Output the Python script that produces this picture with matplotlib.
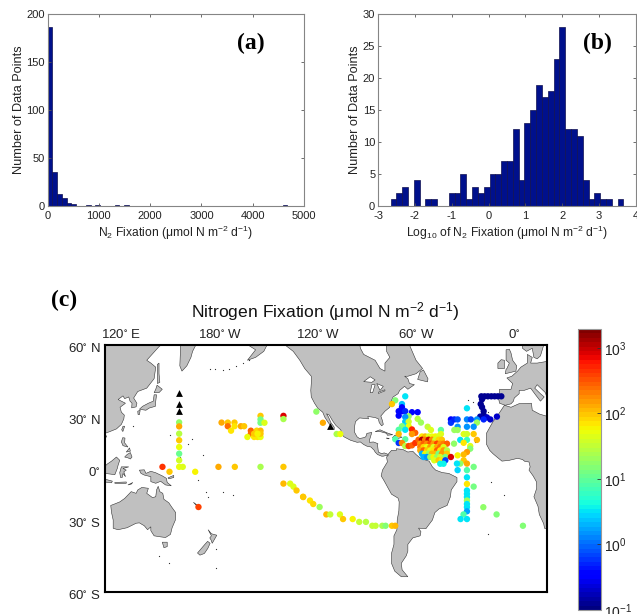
import numpy as np
import matplotlib
matplotlib.use("Agg")
import matplotlib.pyplot as plt
from matplotlib.colors import LogNorm
from matplotlib.patches import Polygon
from matplotlib.cm import ScalarMappable
from matplotlib.transforms import ScaledTranslation

plt.rcParams['font.family'] = ['Liberation Sans', 'DejaVu Sans']
plt.rcParams['mathtext.default'] = 'regular'

W, H = 637, 614

# histogram a: linear bins
a_width = 93.5
a_counts = [187, 35, 12, 8, 3, 2, 0, 0, 1, 0, 1, 0, 0, 0, 1, 0, 1] + [0] * 32 + [1]

# histogram b: log10 bins
b_start = -2.66
b_width = 0.158
b_counts = [1, 2, 3, 0, 4, 0, 1, 1, 0, 0, 2, 2, 5, 1, 3, 2, 3, 5, 5, 7, 7, 12, 4, 13, 15, 19,
            17, 18, 23, 28, 12, 12, 11, 4, 1, 2, 1, 1, 0, 1]

# stations, lon west negative and counted past -180 across the Pacific
pac_lon = [-204.7, -204.7, -204.7, -204.7, -204.7, -204.7, -204.7, -204.7, -214.9, -210.6, -202.5,
           -194.9, -180.7, -170.7, -155, -141, -192.9, -155, -155, -155, -152.6, -141, -141, -178.8,
           -175, -170.9, -175, -170.9, -173, -167, -165, -160.9, -160.9, -163, -158.9, -156.8, -155,
           -157.3, -155, -155, -158.9, -156.8, -141, -136.9, -134.9, -133, -129]
pac_lat = [27.1, 24.9, 20.8, 17, 13, 9, 5, 1, 1, -2, 1, -2, 1, 1, 1, 1, -22.9, 30.6, 28.7, 26.9,
           26.9, 30.6, 28.9, 27, 27, 27, 25, 25, 22.5, 25, 25, 22.5, 20.8, 18.9, 18.9, 18.9, 18.9,
           22.5, 22.5, 20.8, 20.8, 20.8, -9.2, -9.2, -11, -13.3, -17]
pac_val = [18, 130, 30, 90, 50, 11, 40, 50, 450, 90, 45, 60, 130, 100, 25, 90, 400, 100, 12, 12, 45,
           900, 25, 140, 100, 100, 250, 70, 70, 130, 100, 300, 250, 55, 70, 70, 50, 80, 110, 90, 100,
           65, 110, 45, 45, 90, 100]

south_lon = [-128.9, -124.8, -122.8, -118.9, -114.8, -112.4, -106.5, -104.6, -98.7, -94.7, -90.6,
             -86.7, -84.7, -80.6, -78.6, -74.7, -72.7, -120.9, -116.9, -108.5, -106.3]
south_lat = [-17.2, -19.2, -21.2, -22.9, -27, -27, -27, -29.5, -29.5, -31, -31, -33, -33, -33, -33,
             -33, -33, 32.8, 26.9, 20.6, 20.6]
south_val = [90, 70, 80, 20, 110, 35, 45, 100, 60, 35, 30, 35, 35, 25, 16, 100, 120, 18, 130, 25, 50]

# north east Atlantic transect and Azores
ne_lon = [-20.1, -18.1, -16.1, -14, -12, -10, -7.9, -19.7, -20.5, -19.7, -18.7, -18.7, -20.8, -16.7,
          -14.6, -10.6, -18.7, -38.7, -38.7, -36.6, -34.6, -34.6, -36.6, -34.6, -28.9, -28.9, -26.5,
          -22.8, -22.8, -28.9, -24.8, -30.9, -28.9, -24.8, -33, -28.9, -22.8, -30.9]
ne_lat = [40.3, 40.3, 40.3, 40.3, 40.3, 40.3, 40.3, 38.9, 36.6, 35.1, 33, 31, 30.2, 29.8, 28.7, 30.2,
          28.7, 28.7, 26.9, 28.7, 28.7, 24.7, 22.9, 22.9, 34.5, 28.7, 28.7, 28.7, 27, 24.7, 24.7, 20.6,
          20.6, 20.6, 17.2, 17.2, 17.2, 15.5]
ne_val = [.13, .13, .13, .13, .13, .13, .13, .13, .13, .13, .13, .13, .15, .2, .2, .2, .5, .3, .6, .5,
          .8, 1.5, 22, 20, 3, 1.3, .7, 1.5, 20, 1.5, 1.5, 45, 40, 100, 3, 6, 110, 70]

# tropical and south Atlantic line
sa_lon = [-26.9, -26.9, -28.9, -30.9, -30.9, -28.9, -34.6, -33, -35, -34.6, -28.9, -24.8, -28.9, -28.9,
          -24.8, -28.9, -28.9, -28.9, -28.9, -28.9, -28.9, -28.9, -31, -32.8, -28.9, -18.9, -10.8, 5.3]
sa_lat = [13.6, 12, 10, 8.5, 5, 3, 8, 3, 3, -1, -1, 1, -5.4, -9.4, -11, -13.3, -15.3, -17.2, -19.2,
          -21.2, -23, -25.3, -27, -29.5, -29.5, -23, -27, -33]
sa_val = [45, 15, 150, 120, 90, 130, 60, 18, 3, 2.8, 8, 13, 3, 70, 13, 3, 3, 3, 20, 3, 3, 1.8, 8, 3, 3,
          17, 15, 15]

# north west Atlantic and Caribbean
nw_lon = [-66.6, -72.7, -74.7, -68.6, -70.6, -68.6, -68.6, -70.6, -66.6, -62.5, -59, -64.5, -66.6, -66.6,
          -64.5, -59, -57, -52.9, -50.9, -44.8, -44.8, -46.8, -66.6, -68.6, -64.5, -70.6, -66.6, -62.5,
          -60.5, -62.5, -70.6, -72.7, -66.6, -70.6, -68.6, -66.6, -64.5, -62.5, -60.5, -58.5]
nw_lat = [40.3, 38.4, 36.6, 36.6, 33, 35, 33, 30.7, 33, 32.5, 32.5, 30.4, 30, 27.5, 27.5, 29, 27, 24.7,
          22.9, 22.9, 20.6, 19, 25, 25, 25, 23, 23, 23.2, 21.3, 20.6, 20.6, 17.6, 17.6, 15.4, 15.4, 13.6,
          13.6, 14, 15.4, 17.3]
nw_val = [3, 16, 100, 2.5, .4, .4, .35, .4, .5, .4, .35, 20, 1.5, 2.5, 40, 30, 22, 35, 45, 10, 45, 45, 3,
          15, 50, 8, 3, 500, 300, 150, 120, 8, 10, .6, 180, 30, 400, 280, 450, 280]

# dense patch east of the Antilles
patch_lon = [-56.4, -54.4, -52.3, -50.3, -48.2, -46.2,
             -56.4, -54.4, -52.3, -50.3, -48.2, -46.2, -44.2,
             -57.4, -55.4, -53.3, -51.3, -49.3, -47.2, -45.2, -43.2, -41.1, -36.8,
             -57.4, -55.4, -53.3, -51.3, -49.3, -47.2, -45.2, -43.2,
             -57.4, -55.4, -53.3, -51.3, -49.3, -47.2, -45.2, -43.2, -41.1,
             -56.4, -54.4, -52.3, -50.3, -48.2, -46.2, -44.2, -41.1,
             -55.4, -53.3, -51.3, -49.3, -47.2, -45.2, -42.1, -38.7,
             -48.9, -46.2, -44.2, -42.1, -45.2, -43.2]
patch_lat = [19.2] * 6 + [17.3] * 7 + [15] * 10 + [13] * 8 + [11] * 9 + [9] * 8 + [7] * 8 + [5] * 4 + [2.9] * 2
patch_val = [70, 120, 45, 50, 60, 45,
             1200, 200, 1000, 180, 40, 80, 100,
             150, 280, 180, 350, 160, 400, 150, 200, 300, 18,
             200, 80, 50, 160, 45, 140, 250, 45,
             130, 300, 100, 50, 70, 280, 70, 150, 30,
             2, 60, 22, 120, 110, 13, 150, 90,
             2, 1.5, 20, 60, 18, 40, 12, 900,
             45, 100, 70, .7, 4, 3.5]

no_data_lon = [-204.7, -204.7, -204.7, -112.4]
no_data_lat = [42, 36.4, 33, 25.3]

# land west of the map seam, lon as east longitude
asia_side = {
    'asia': [(100, 21), (110, 21), (113, 22), (117, 23.5), (120, 26), (121.5, 29), (121.8, 31), (120, 32.5),
             (119.2, 35), (122.5, 37), (120, 38), (118, 38.8), (121, 40.5), (122, 39.2), (124.5, 40),
             (125.3, 38), (126.5, 37), (126.3, 34.7), (129, 35.2), (129.5, 37), (127.5, 39.5), (130, 42.5),
             (135.5, 44), (140, 48), (141, 52.5), (138, 54), (135.5, 55), (143, 59.5), (150, 62), (100, 62)],
    'kamchatka': [(156, 62), (156, 57), (155.7, 53), (157, 51), (160, 53), (162.5, 56), (163.5, 58),
                  (166, 60.5), (166, 62)],
    'honshu': [(131, 34), (135, 33.5), (137, 34.6), (140.8, 35.5), (141, 38), (141.5, 41), (140, 41),
               (139.5, 38), (136.5, 37), (133, 35.5)],
    'kyushu': [(130, 33), (131.5, 33.5), (131, 31.2), (130.2, 31.3)],
    'hokkaido': [(140, 42), (141, 43.5), (141.8, 45.3), (145, 43.5), (143, 42)],
    'sakhalin': [(142, 46), (143.5, 46.5), (143, 50), (143, 54), (142, 53.5), (142, 49)],
    'taiwan': [(120.2, 23), (121, 25), (122, 25), (120.9, 22)],
    'hainan': [(109, 19), (110.5, 20), (111, 19), (109.7, 18.2)],
    'luzon': [(120, 16), (120.8, 18.5), (122.2, 18.3), (122, 15.5), (124, 13), (121, 13.8)],
    'visayas': [(123, 10), (125, 12.5), (125.5, 10.5)],
    'mindanao': [(122, 7), (123.5, 8.5), (125.5, 9.7), (126.5, 7), (125.5, 5.8), (124, 6.5)],
    'borneo': [(110, 1.5), (111.5, 2.8), (114, 4.5), (117, 7), (119, 5), (118, 2), (117.5, 0), (116, -3.8),
               (114, -3.5), (110, -3), (109, 0)],
    'sulawesi': [(119.5, -5.5), (119, -2.5), (120, 1), (124.5, 1), (121, 0), (123, -1), (121.5, -2),
                 (122.5, -5), (121, -3), (120.5, -5.5)],
    'java': [(105, -7), (110, -6.5), (114.5, -7.7), (114, -8.7), (106, -7.8)],
    'flores': [(116, -8.5), (123, -8.2), (123, -9), (116, -9)],
    'timor': [(124, -10), (127, -8.5), (126, -9.5)],
    'guinea': [(131, -1), (134, -0.8), (135, -3), (138, -1.7), (141, -2.6), (145, -4.5), (147.5, -6),
               (148, -8.5), (150.5, -10.5), (147, -10), (144, -7.8), (141, -9), (138, -8), (138, -5),
               (134, -4), (132, -3)],
    'newbritain': [(148.5, -5.7), (152, -4.2), (152, -5.5), (149, -6.3)],
    'australia': [(113.5, -22), (114, -26), (115, -30), (115, -34.3), (118, -35), (123.5, -34), (129, -31.7),
                  (131, -31.5), (134, -33), (136, -35), (138, -33.5), (138, -35.5), (140, -38), (144, -38.5),
                  (147, -38.8), (150, -37.3), (151, -34), (153, -30), (153.2, -26), (150.8, -23), (149, -20.5),
                  (146, -18.5), (145.3, -15), (143.5, -14), (142.5, -10.8), (141.5, -13), (141, -17),
                  (139, -17.5), (135.5, -15), (136.5, -12), (132.5, -11.5), (130, -13), (129, -15), (126, -14),
                  (122, -18), (119, -20), (115, -21.5)],
    'tasmania': [(145, -41), (148, -41), (148, -43), (146, -43.5)],
    'nz_north': [(173, -35), (175, -37), (178.3, -37.7), (177, -39.5), (175.5, -41.5), (174.8, -40), (174, -39),
                 (175, -38)],
    'nz_south': [(172.7, -40.6), (174.2, -41.5), (172.8, -43.8), (170.7, -46), (168, -46.7), (166.5, -45.8),
                 (171, -42)],
    'caledonia': [(164, -20.2), (167, -22.3), (166, -22.2)],
}

# land east of the seam, lon west negative
america_side = {
    'north_america': [(-170, 70), (-165, 61), (-162, 59.8), (-158, 58.5), (-163, 55), (-158, 56), (-153, 58),
                      (-151, 60), (-148, 61), (-140, 60), (-135, 58), (-131, 55), (-128, 52), (-124, 49),
                      (-124, 46), (-124.3, 43), (-124, 40), (-122, 37), (-120, 34.5), (-117, 32.5),
                      (-115.8, 30), (-114, 27.5), (-112, 25), (-110, 23), (-110, 24.5), (-112, 27), (-113.5, 30),
                      (-114.7, 31.7), (-113, 31), (-111, 28), (-109, 25.5), (-106, 23), (-105, 20), (-104, 19),
                      (-100, 17), (-96, 15.8), (-94, 16), (-92, 14.5), (-90, 13.5), (-87.5, 13), (-85.5, 11),
                      (-85, 10), (-83.5, 8.5), (-81, 7.5), (-80, 7.5), (-78, 8), (-77, 8), (-77.5, 8.8),
                      (-79.5, 9.5), (-81, 9), (-83, 10), (-83.5, 14), (-83.3, 15), (-86, 16), (-88.5, 15.8),
                      (-88.3, 17.5), (-87.5, 20), (-87, 21.5), (-90, 21), (-90.7, 19), (-92, 18.5), (-94.5, 18),
                      (-96, 19), (-97.5, 21.5), (-97.5, 25), (-97, 27.5), (-94.5, 29.5), (-91, 29.2), (-89, 29),
                      (-89.5, 30.3), (-85, 29.7), (-83, 29), (-82.5, 27), (-81, 25.2), (-80, 26), (-80.5, 28),
                      (-81.5, 30.5), (-79, 33), (-76, 35), (-75.5, 37.5), (-74, 40), (-71, 41.5), (-70, 43),
                      (-67, 44.8), (-65, 43.5), (-61, 45.5), (-64, 46), (-65, 48), (-67, 49), (-65, 49), (-60, 50),
                      (-56, 52), (-60, 55), (-64, 60), (-70, 62), (-78, 62), (-78, 58), (-76, 56), (-79, 54),
                      (-79, 51), (-82, 52), (-85, 55), (-92, 57), (-94, 59), (-95, 62), (-100, 70)],
    'south_america': [(-77, 8), (-78, 7), (-77.5, 4), (-79, 1.5), (-80.5, -1), (-81.3, -4.5), (-79.5, -7.5),
                      (-77, -12), (-75, -15.5), (-71, -17.8), (-70.3, -20), (-70.5, -25), (-71.5, -30),
                      (-71.7, -35), (-73.5, -38), (-73.5, -42), (-75, -46), (-75, -50), (-73, -53), (-69, -55),
                      (-65, -55), (-68.5, -52.5), (-69, -50), (-66, -47), (-65, -45), (-65, -42), (-62, -39),
                      (-57.5, -38), (-57, -36), (-58.5, -34.2), (-54, -34.5), (-50, -30), (-48.5, -26), (-46, -24),
                      (-41, -22), (-39, -17), (-38.5, -13), (-35, -8), (-35, -5.5), (-40, -3), (-44, -2.5),
                      (-48, -1), (-50, 1), (-52, 4.5), (-57, 6), (-60, 8.5), (-62, 10.5), (-65, 10), (-68, 11.5),
                      (-72, 12), (-72, 11), (-75, 11), (-77, 8.7)],
    'newfoundland': [(-59, 47.7), (-53, 46.7), (-52.7, 48), (-55.5, 51.5), (-57.5, 50.7)],
    'cuba': [(-85, 22), (-82, 23), (-77, 21), (-74.2, 20.2), (-77.5, 19.9), (-78, 21), (-82, 22)],
    'hispaniola': [(-74.4, 18.5), (-73, 19.9), (-68.5, 18.8), (-71, 18)],
    'jamaica': [(-78.3, 18.3), (-76.3, 18.1), (-77, 17.8)],
    'africa': [(-6, 36), (-10, 31), (-13, 27.5), (-17, 21), (-17, 14.7), (-15, 11), (-13, 9), (-10, 6.5),
               (-7.5, 4.5), (-3, 5), (2, 6.2), (5, 5.5), (6.5, 4.3), (9, 4), (9.7, 1), (9, -1), (11.5, -4.5),
               (13.5, -8), (13.7, -12), (12, -17), (14.5, -22.5), (15.3, -27), (18, -32), (18.5, -34.3),
               (21, -34.5), (25, -34), (25, 32), (20, 32.5), (19.5, 30.5), (15.5, 31.5), (11, 33.5), (10.5, 37),
               (3, 36.8), (-2, 35)],
    'europe': [(-9, 37), (-9.5, 39), (-9, 43.5), (-2, 43.5), (-1, 46), (-4.5, 48.3), (-1.5, 49), (2, 51),
               (4, 52.5), (8, 54), (8, 57), (11, 56), (10, 54), (14, 54), (19, 54.5), (25, 55), (25, 36),
               (22, 37), (20, 39.5), (19, 42), (14, 45.5), (12.5, 44), (16, 41.5), (18.3, 40), (16, 38), (13, 41),
               (10, 44), (6, 43), (3, 43), (3, 41.5), (0, 39.5), (-0.5, 38), (-2, 36.7), (-5.5, 36)],
    'scandinavia': [(5, 62), (5, 59), (7.5, 58), (11, 59), (12, 56), (14, 55.5), (16, 56.5), (18, 60), (18, 62)],
    'britain': [(-5.5, 50), (1, 51), (1.5, 53), (-1, 55), (-2, 57.5), (-3, 58.7), (-5, 58.5), (-5, 55), (-3, 54),
                (-4.5, 52), (-5, 51.7)],
    'ireland': [(-10, 52), (-6, 52), (-6, 55), (-8, 55.2), (-10, 54)],
}

lakes = {
    'superior': [(-92, 46.8), (-88, 48.8), (-85, 47.5), (-87, 46.5)],
    'michigan': [(-88, 42), (-87, 45.5), (-85, 45.5), (-86.5, 42)],
    'huron': [(-84, 46), (-80, 44.8), (-82, 43)],
    'erie': [(-83, 41.6), (-79, 42.8), (-79, 43.3), (-83, 42.2)],
}

# specks of islands
islet_lon = [-186, -183, -178, -174, -170, -166, -162, -155.5, -157, -159, -190, -193, -188, -178, -172, -199, -197,
             -210, -206, -204, -233, -217, -211, -182, -187, -182, -28, -25, -16, -15, -24, -14, -6, -16]
islet_lat = [52, 52, 51.5, 52, 53, 54, 55, 19.5, 21, 22, 8, -7, -14, -14, -16, 15, 18, 20, 28, 7, 25, -47, -50, -52,
             -17, -44, 38.5, 37.5, 32.7, 28.2, 16, -8, -16, -37]

lat_ticks = [60, 30, 0, -30, -60]
lat_labels = ['60$^{\\circ}$ N', '30$^{\\circ}$ N', '0$^{\\circ}$', '30$^{\\circ}$ S', '60$^{\\circ}$ S']
lon_ticks = [-240, -180, -120, -60, 0]
lon_labels = ['120$^{\\circ}$ E', '180$^{\\circ}$ W', '120$^{\\circ}$ W', '60$^{\\circ}$ W', '0$^{\\circ}$']
cbar_ticks = [0.1, 1, 10, 100, 1000]


def box(left, top, right, bottom):
    return [left / W, 1 - bottom / H, (right - left) / W, (bottom - top) / H]


def merc(lat):
    return np.degrees(np.arcsinh(np.tan(np.radians(lat))))


def merc_inv(y):
    return np.degrees(np.arctan(np.sinh(np.radians(y))))


def hist_panel(ax, centers, counts, width):
    ax.bar(centers, counts, width=width, color='#00108c', edgecolor='#101050', linewidth=0.5)
    ax.tick_params(direction='in', length=2.5, width=0.6, top=True, right=True, labelsize=8,
                   color='#555555', labelcolor='#222222', pad=2)
    ax.tick_params(axis='x', pad=3.5)
    for s in ax.spines.values():
        s.set_color('#858585')
        s.set_linewidth(0.8)


def panel_letter(x, y, letter):
    fig.text(x / W, 1 - y / H, letter, family='Liberation Serif', weight='bold', fontsize=17,
             ha='center', va='center')


fig = plt.figure(figsize=(W / 100, H / 100), dpi=100)

ax1 = fig.add_axes(box(47.5, 14.5, 304, 205.7))
hist_panel(ax1, a_width * (np.arange(len(a_counts)) + 0.5), a_counts, a_width)
ax1.set_xlim(0, 5000)
ax1.set_ylim(0, 200)
ax1.set_xticks(range(0, 5001, 1000))
ax1.set_yticks(range(0, 201, 50))
ax1.set_xlabel('N$_2$ Fixation (μmol N m$^{-2}$ d$^{-1}$)', fontsize=8.7, color='#222222', labelpad=2)
ax1.set_ylabel('Number of Data Points', fontsize=9.2, color='#222222', labelpad=1)
panel_letter(251, 43, '(a)')

ax2 = fig.add_axes(box(378, 14.5, 636, 205.7))
hist_panel(ax2, b_start + b_width * (np.arange(len(b_counts)) + 0.5), b_counts, b_width)
ax2.set_xlim(-3, 4)
ax2.set_ylim(0, 30)
ax2.set_xticks(range(-3, 5))
ax2.set_xticklabels(['-3', '-2', '-1', '0', '1', '2', '3', '4'])
ax2.set_yticks(range(0, 31, 5))
ax2.set_xlabel('Log$_{10}$ of N$_2$ Fixation (μmol N m$^{-2}$ d$^{-1}$)', fontsize=8.7, color='#222222', labelpad=2)
ax2.set_ylabel('Number of Data Points', fontsize=9.2, color='#222222', labelpad=1)
panel_letter(597, 43, '(b)')

panel_letter(64.5, 300, '(c)')
fig.text(325 / W, 1 - 312 / H, 'Nitrogen Fixation (μmol N m$^{-2}$ d$^{-1}$)', fontsize=12.6, color='#111111',
         ha='center', va='center')

ax3 = fig.add_axes(box(105, 345, 547, 592))
ax3.set_yscale('function', functions=(merc, merc_inv))
ax3.set_xlim(-250, 20)
ax3.set_ylim(-60, 60)
for name, pts in asia_side.items():
    ax3.add_patch(Polygon([(x - 360, y) for x, y in pts], facecolor='#c0c0c0', edgecolor='#333333', linewidth=0.4))
for name, pts in america_side.items():
    ax3.add_patch(Polygon(pts, facecolor='#c0c0c0', edgecolor='#333333', linewidth=0.4))
for name, pts in lakes.items():
    ax3.add_patch(Polygon(pts, facecolor='white', edgecolor='#333333', linewidth=0.4))
ax3.plot(islet_lon, islet_lat, ls='none', marker='s', ms=0.8, mew=0, color='#333333')

norm = LogNorm(vmin=0.1, vmax=1950)
cmap = plt.get_cmap('jet', 64)
for lon, lat, val in [(pac_lon, pac_lat, pac_val), (south_lon, south_lat, south_val),
                      (ne_lon, ne_lat, ne_val), (sa_lon, sa_lat, sa_val),
                      (nw_lon, nw_lat, nw_val), (patch_lon, patch_lat, patch_val)]:
    ax3.scatter(lon, lat, c=val, s=21, cmap=cmap, norm=norm, linewidths=0, zorder=3)
ax3.scatter(no_data_lon, no_data_lat, marker='^', s=24, color='black', linewidths=0, zorder=4)

ax3.set_xticks(lon_ticks)
ax3.set_xticklabels(lon_labels, fontsize=9.5, color='#222222')
ax3.set_yticks(lat_ticks)
ax3.set_yticklabels(lat_labels, fontsize=9.5, color='#222222')
ax3.minorticks_off()
ax3.tick_params(top=True, labeltop=True, bottom=False, labelbottom=False, length=0, pad=3)
nudge = ScaledTranslation(0, -2 / 100, fig.dpi_scale_trans)
for lab in ax3.get_yticklabels():
    lab.set_transform(lab.get_transform() + nudge)
for s in ax3.spines.values():
    s.set_linewidth(1.5)

cax = fig.add_axes(box(578, 329, 601, 610))
cb = fig.colorbar(ScalarMappable(norm=norm, cmap=cmap), cax=cax)
cb.set_ticks(cbar_ticks)
cb.ax.minorticks_off()
cb.ax.tick_params(direction='in', length=3, width=0.6, labelsize=10, color='#333333', labelcolor='#222222', pad=2)
cb.outline.set_edgecolor('#999999')
cb.outline.set_linewidth(0.8)

fig.savefig('out.png', dpi=100)
